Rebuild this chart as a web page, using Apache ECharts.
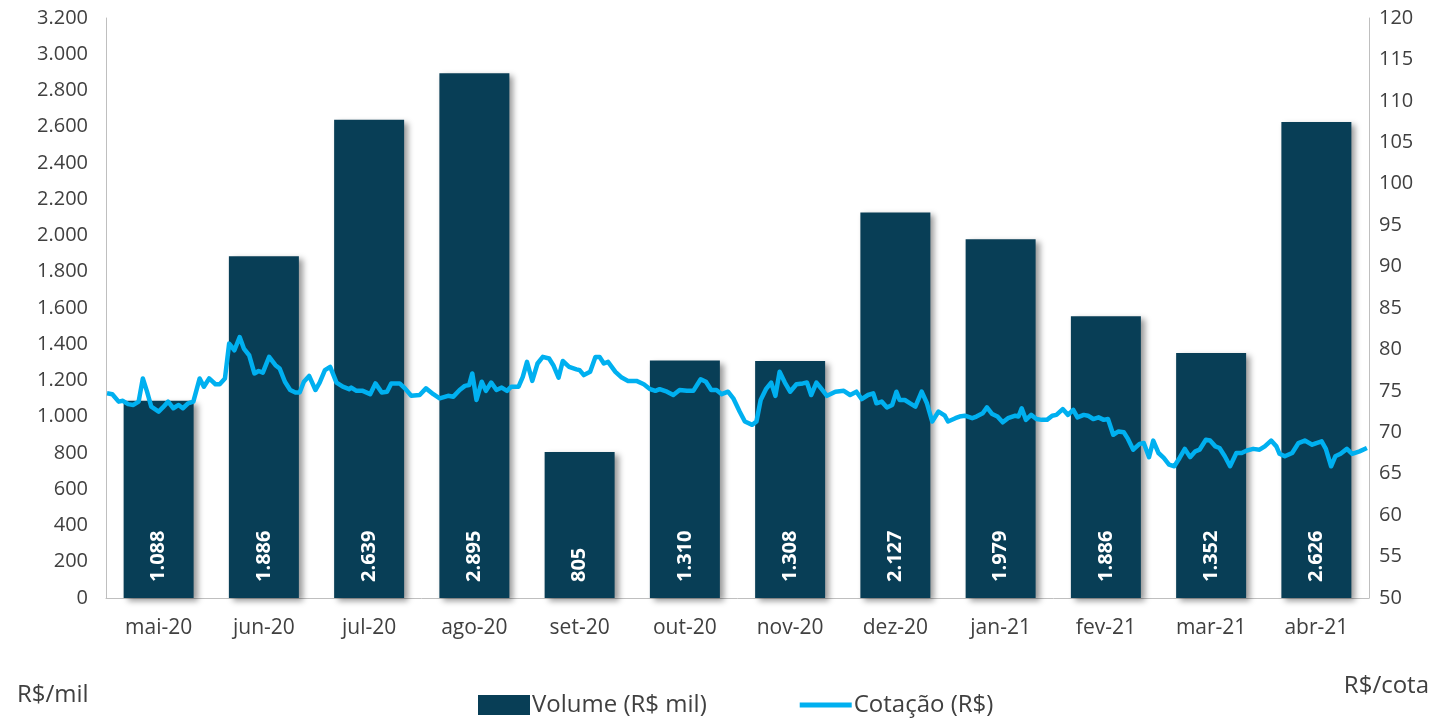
<!DOCTYPE html>
<html>
<head>
<meta charset="utf-8">
<script src="https://cdn.jsdelivr.net/npm/echarts@6/dist/echarts.min.js"></script>
<style>
  html, body { margin: 0; padding: 0; background: #fff; }
  #chart { width: 1448px; height: 720px; }
</style>
</head>
<body>
<div id="chart"></div>
<script>
// ---- dados ----
const meses = ['mai-20', 'jun-20', 'jul-20', 'ago-20', 'set-20', 'out-20', 'nov-20', 'dez-20', 'jan-21', 'fev-21', 'mar-21', 'abr-21']
// altura das barras (R$ mil)
const volume = [1088, 1886, 2639, 2895, 805, 1310, 1308, 2127, 1979, 1555, 1352, 2626]
// rótulos impressos nas barras
const rotulos = ['1.088', '1.886', '2.639', '2.895', '805', '1.310', '1.308', '2.127', '1.979', '1.886', '1.352', '2.626']

// cotação diária: posição em meses desde o início de mai-20, e valor em R$
const cotPos = [
  0.01, 0.06, 0.12, 0.16, 0.21, 0.26, 0.31, 0.35, 0.39, 0.43, 0.50, 0.54, 0.59, 0.64, 0.69, 0.73, 0.78, 0.83, 0.89, 0.93,
  0.98, 1.04, 1.08, 1.13, 1.17, 1.22, 1.27, 1.31, 1.36, 1.41, 1.45, 1.49, 1.55, 1.61, 1.65, 1.70, 1.75, 1.80, 1.84, 1.88,
  1.93, 1.99, 2.03, 2.08, 2.13, 2.19, 2.25, 2.31, 2.33, 2.38, 2.44, 2.51, 2.56, 2.62, 2.67, 2.71, 2.79, 2.84, 2.90, 2.98,
  3.04, 3.11, 3.17, 3.25, 3.30, 3.36, 3.41, 3.45, 3.48, 3.52, 3.57, 3.61, 3.66, 3.71, 3.76, 3.81, 3.85, 3.92, 3.96, 4.00,
  4.05, 4.10, 4.15, 4.21, 4.25, 4.30, 4.34, 4.40, 4.47, 4.50, 4.54, 4.60, 4.65, 4.69, 4.73, 4.77, 4.84, 4.90, 4.96, 5.04,
  5.11, 5.17, 5.22, 5.26, 5.33, 5.39, 5.45, 5.52, 5.58, 5.65, 5.70, 5.75, 5.80, 5.85, 5.91, 5.96, 6.02, 6.07, 6.14, 6.18,
  6.22, 6.27, 6.32, 6.36, 6.40, 6.45, 6.50, 6.56, 6.62, 6.66, 6.70, 6.75, 6.80, 6.85, 6.93, 7.01, 7.07, 7.13, 7.18, 7.24,
  7.29, 7.32, 7.37, 7.42, 7.47, 7.51, 7.54, 7.59, 7.64, 7.69, 7.75, 7.80, 7.85, 7.91, 7.97, 8.00, 8.07, 8.11, 8.16, 8.23,
  8.27, 8.33, 8.37, 8.42, 8.47, 8.52, 8.57, 8.64, 8.67, 8.70, 8.74, 8.79, 8.84, 8.89, 8.94, 8.99, 9.03, 9.09, 9.14, 9.19,
  9.23, 9.29, 9.33, 9.38, 9.43, 9.48, 9.52, 9.57, 9.62, 9.67, 9.71, 9.76, 9.82, 9.86, 9.91, 9.95, 10.00, 10.05, 10.10, 10.15,
  10.20, 10.25, 10.30, 10.35, 10.39, 10.45, 10.49, 10.54, 10.58, 10.63, 10.68, 10.74, 10.79, 10.84, 10.90, 10.96, 11.01, 11.07, 11.12, 11.15,
  11.20, 11.27, 11.33, 11.39, 11.46, 11.50, 11.55, 11.59, 11.64, 11.68, 11.73, 11.79, 11.84, 11.91, 11.98
]
const cotValor = [
  74.7, 74.6, 73.7, 73.8, 73.4, 73.3, 73.7, 76.5, 74.9, 73.1, 72.5, 73.0, 73.7, 72.9, 73.3, 72.9, 73.5, 73.7, 76.5, 75.5,
  76.5, 75.8, 75.8, 76.5, 80.7, 79.9, 81.5, 80.1, 79.3, 77.1, 77.4, 77.2, 79.1, 78.1, 77.7, 76.1, 75.1, 74.8, 74.8, 76.1,
  76.8, 75.1, 76.0, 77.5, 77.9, 76.0, 75.5, 75.2, 75.4, 75.0, 75.0, 74.6, 75.9, 74.8, 74.9, 75.9, 75.9, 75.3, 74.4, 74.5,
  75.3, 74.6, 74.1, 74.4, 74.3, 75.1, 75.6, 75.7, 77.1, 73.9, 76.1, 75.0, 76.0, 75.1, 75.4, 75.0, 75.5, 75.5, 76.7, 78.5,
  76.2, 78.3, 79.1, 78.9, 78.1, 76.6, 78.6, 77.9, 77.6, 77.5, 76.9, 77.3, 79.1, 79.1, 78.3, 78.5, 77.3, 76.6, 76.2, 76.2,
  75.8, 75.2, 75.0, 75.2, 74.9, 74.5, 75.1, 75.0, 75.0, 76.4, 76.1, 75.1, 75.1, 74.6, 74.9, 74.1, 72.5, 71.3, 70.9, 71.3,
  73.9, 75.2, 76.0, 74.4, 77.3, 76.0, 74.9, 75.8, 75.9, 76.0, 74.5, 76.0, 75.2, 74.4, 74.9, 75.0, 74.5, 74.9, 74.0, 74.5,
  74.7, 73.5, 73.7, 73.0, 73.3, 74.9, 73.9, 73.9, 73.5, 73.1, 74.9, 73.5, 71.3, 72.5, 72.0, 71.3, 71.7, 71.9, 72.0, 71.7,
  71.9, 72.3, 73.0, 72.2, 71.9, 71.2, 71.7, 72.0, 71.9, 72.9, 71.5, 72.1, 71.6, 71.5, 71.5, 72.0, 72.1, 72.8, 72.1, 72.7,
  71.8, 72.1, 72.0, 71.6, 71.8, 71.5, 71.6, 69.7, 70.1, 70.0, 69.2, 67.9, 68.6, 68.7, 67.0, 69.0, 67.5, 66.9, 66.1, 65.9,
  66.9, 68.0, 67.0, 67.7, 67.9, 69.1, 69.0, 68.3, 68.1, 67.1, 65.9, 67.5, 67.5, 67.8, 68.0, 67.9, 68.3, 69.0, 68.3, 67.4,
  67.1, 67.5, 68.7, 69.0, 68.5, 68.7, 68.9, 68.0, 65.9, 67.1, 67.4, 68.0, 67.4, 67.7, 68.1
]

const corBarra = '#083e56'
const corLinha = '#00b0f0'
const corTexto = '#404040'
const corEixo = '#bfbfbf'
const fonte = 'Open Sans'

// formato brasileiro: 3.200
function milhar(v) {
  return String(v).replace(/\B(?=(\d{3})+(?!\d))/g, '.')
}

const chart = echarts.init(document.getElementById('chart'))

chart.setOption({
  animation: false,
  textStyle: { fontFamily: fonte },
  grid: { left: 106, right: 79, top: 18, bottom: 122 },
  title: [
    { text: 'R$/mil', left: 17, top: 683, padding: 0, textStyle: { fontSize: 24, fontWeight: 'normal', color: corTexto, fontFamily: fonte } },
    { text: 'R$/cota', right: 19, top: 674, padding: 0, textStyle: { fontSize: 24, fontWeight: 'normal', color: corTexto, fontFamily: fonte } }
  ],
  legend: {
    left: 478,
    top: 693,
    padding: 0,
    itemWidth: 52,
    itemHeight: 20,
    itemGap: 93,
    textStyle: { fontSize: 24, color: corTexto, fontFamily: fonte, padding: [0, 0, 0, -3] },
    data: [
      { name: 'Volume (R$ mil)', icon: 'rect' },
      { name: 'Cotação (R$)', icon: 'path://M0,0 L52,0 L52,5 L0,5 Z' }
    ]
  },
  xAxis: [
    {
      type: 'category',
      data: meses,
      axisLine: { lineStyle: { color: corEixo, width: 1 } },
      axisTick: { show: false },
      axisLabel: { color: corTexto, fontSize: 21, margin: 20 }
    },
    {
      type: 'value',
      min: 0,
      max: 12,
      show: false
    }
  ],
  yAxis: [
    {
      type: 'value',
      min: 0,
      max: 3200,
      interval: 200,
      axisLine: { show: true, lineStyle: { color: corEixo } },
      axisTick: { show: false },
      splitLine: { show: false },
      axisLabel: { color: corTexto, fontSize: 20, margin: 18, formatter: milhar }
    },
    {
      type: 'value',
      min: 50,
      max: 120,
      interval: 5,
      position: 'right',
      axisLine: { show: true, lineStyle: { color: corEixo } },
      axisTick: { show: false },
      splitLine: { show: false },
      axisLabel: { color: corTexto, fontSize: 20, margin: 10 }
    }
  ],
  series: [
    {
      name: 'Volume (R$ mil)',
      type: 'bar',
      xAxisIndex: 0,
      yAxisIndex: 0,
      data: volume,
      barWidth: 70,
      itemStyle: {
        color: corBarra,
        shadowColor: 'rgba(0,0,0,0.4)',
        shadowBlur: 6,
        shadowOffsetX: 4,
        shadowOffsetY: 3
      },
      label: {
        show: true,
        position: 'insideBottom',
        rotate: 90,
        align: 'left',
        verticalAlign: 'middle',
        distance: 16,
        color: '#fff',
        fontSize: 20,
        fontWeight: 'bold',
        fontFamily: fonte,
        formatter: p => rotulos[p.dataIndex]
      },
      z: 2
    },
    {
      name: 'Cotação (R$)',
      type: 'line',
      xAxisIndex: 1,
      yAxisIndex: 1,
      data: cotPos.map((x, i) => [x, cotValor[i]]),
      showSymbol: false,
      symbol: 'none',
      lineStyle: { color: corLinha, width: 4.5, join: 'round' },
      itemStyle: { color: corLinha },
      z: 3
    }
  ]
})
</script>
</body>
</html>
